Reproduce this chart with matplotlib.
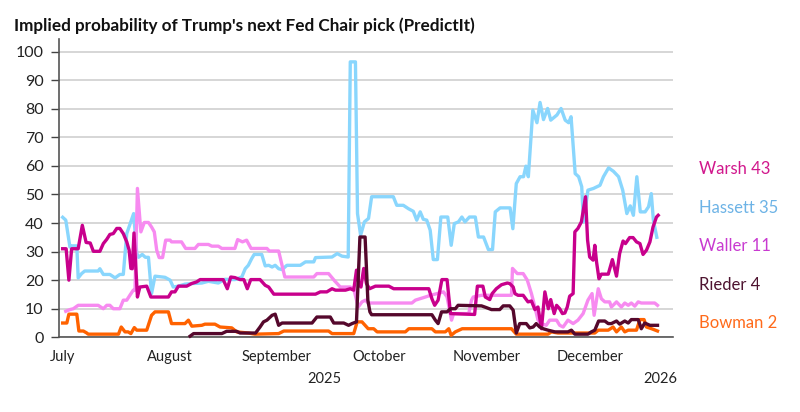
import matplotlib
matplotlib.use("Agg")
import matplotlib.pyplot as plt
import matplotlib.transforms as mtransforms

plt.rcParams['font.family'] = ['Lato', 'DejaVu Sans']

# x = days since 1 July 2025
months = ['July', 'August', 'September', 'October', 'November', 'December']
month_days = [0, 31, 62, 92, 123, 153]
years = ['2025', '2026']
year_days = [76, 173.5]

hassett_day = [0, 0.9, 2.1, 2.6, 4.1, 4.5, 5.5, 6.4, 10.3, 10.8, 11.8, 13.7, 15.2, 16.6, 17.6, 18.6,
               19.6, 20.6, 21.5, 22, 23.1, 24, 24.9, 25.8, 26.8, 29.7, 31.2, 32.1, 33.6, 35.5, 37.5,
               40.4, 42.3, 45.2, 47.1, 50, 52, 53, 53.9, 54.9, 55.6, 57.8, 58.8, 59.8, 60.8, 61.7,
               62.7, 63.7, 65.1, 69, 70.5, 72.9, 73.4, 78.2, 79.7, 81.1, 82.9, 83.5, 85, 85.6, 86.5,
               87.6, 88.8, 89.7, 96, 97, 98.9, 100.4, 101.8, 102.8, 103.8, 104.7, 105.7, 106.7,
               107.6, 108.8, 109.8, 111.8, 112.8, 113.7, 114.9, 115.9, 116.8, 118.1, 119.8, 120.7,
               122.2, 123.6, 124.8, 125.6, 127, 129.9, 130.7, 131.7, 132.8, 133.8, 134.5, 135.2,
               136.5, 137.7, 138.6, 139.6, 140.8, 141.7, 143.5, 144.7, 145.9, 146.9, 147.6, 148.8,
               149.8, 150.7, 151.2, 152.5, 154.1, 155.1, 156, 157, 158.5, 159.9, 161.4, 162.6,
               163.8, 164.8, 165.7, 166.7, 167.7, 169.1, 170.1, 170.9, 171.5, 172.5]
hassett = [42, 41, 31.6, 32, 32, 20.8, 22.3, 23.2, 23.2, 24, 22, 22, 20.8, 22, 22, 36.3,
           39.8, 43.3, 29.5, 28, 29, 28, 28, 15.3, 21.4, 21, 20, 17.6, 17.9, 18.6, 18.8,
           19, 19.6, 19, 20.3, 20.2, 21.1, 24, 25.2, 27.6, 29, 29, 25, 25.2, 24.6, 25.2,
           24, 23.7, 25.2, 25.2, 26.4, 26.4, 27.9, 28.1, 29.3, 28.4, 28.1, 96.4, 96.4, 43.3, 35.7,
           40.4, 41.6, 49.2, 49.2, 46.2, 46.2, 45, 44.1, 41, 43.9, 41.3, 41, 37.5,
           27.2, 27.2, 42.1, 42.1, 32.2, 39.8, 40.4, 42.1, 40.4, 42.1, 42.1, 35.1,
           35.1, 30.7, 30.7, 43.9, 45.3, 45.3, 38, 53.8, 56.2, 56.2, 59.9, 56.2,
           79.5, 75.1, 82.2, 76.2, 80.1, 76, 77.8, 80.1, 76, 75.1, 77.2, 57.3,
           56.2, 52.7, 40.4, 51.5, 52.1, 52.7, 53.2, 56.2, 59.3, 58.1, 56.2, 51.5,
           43.3, 46, 42.7, 56.2, 43.9, 43.9, 45.7, 50.3, 41, 35]

warsh_day = [0, 1, 1.8, 2.6, 4.5, 5.7, 6.8, 8, 8.9, 10.8, 11.8, 12.8, 13.7, 14.7, 15.7, 16.6, 17.6,
             18.6, 19.3, 19.8, 20.2, 20.7, 21.7, 22.4, 24.4, 25.6, 30.7, 31.6, 32.6, 33.6, 36,
             37.4, 38.9, 39.9, 46.6, 47.8, 48.8, 50, 51.5, 52.6, 53.6, 54.6, 57.3, 58.8, 59.8,
             61.3, 73.4, 74.8, 76.7, 78.2, 79.2, 82.1, 83.5, 84.5, 85.3, 86, 86.6, 87.4, 88.2,
             89.1, 90.8, 94.7, 96.1, 106.3, 107.2, 108, 109, 110.1, 111.6, 112.6, 119.6, 120.4,
             122, 122.7, 124, 124.7, 125.9, 127.4, 129.1, 129.8, 130.8, 131.3, 132.2, 133.7,
             135.1, 136.1, 137.1, 138, 139, 140, 141, 141.7, 142.7, 143.4, 144.3, 145.1, 145.8,
             146.5, 147.2, 148.2, 148.7, 149.6, 150.6, 151.8, 152.4, 153, 154, 154.5, 155,
             155.7, 156.4, 158.4, 159.6, 160.8, 161.7, 162.7, 163.4, 164.6, 165.6, 166.6,
             167.6, 168.5, 169.5, 170.5, 171.4, 172.4, 172.9]
warsh = [31, 31, 20, 31, 31, 39.2, 33.2, 33, 30.1, 30.1, 32.8, 34.3, 36, 36.3, 38.1, 38.1, 36.3,
         33.4, 30.5, 24.1, 24, 36.5, 14.1, 17.6, 17.9, 14.1, 14.1, 15.9, 15.9, 17.9, 17.9,
         18.8, 19.4, 20.2, 20.2, 17, 21.1, 20.9, 20.2, 20.2, 17, 20.2, 20.2, 18.2, 17.6,
         15.1, 15.1, 15.9, 15.9, 17, 16.5, 16.5, 17, 16.5, 23.5, 18.8, 17.6, 24.1, 18.8,
         17, 17.9, 17.9, 17, 17, 13.5, 11.2, 13, 20.2, 20.2, 8.3, 8, 17.9,
         17.9, 14.1, 13.2, 15.3, 17, 18.4, 19, 18.8, 17.6, 15.3, 14.7, 14.7,
         12.4, 12.7, 9.7, 10.6, 3, 15.9, 10, 13.2, 8.3, 11.2, 10, 8.3, 8.5,
         10.6, 14.4, 15.3, 36.9, 38.1, 40.4, 49.2, 34, 28.1, 27, 32.2, 26.4,
         20.5, 22.1, 22.1, 27.2, 21.4, 29.3, 33.7, 32.8, 34.9, 34.9, 33.4,
         32.8, 29, 30.5, 33.4, 38.6, 42.1, 42.7]

waller_day = [0.9, 2.1, 3.1, 4.5, 10.3, 11.8, 12.8, 13.7, 14.7, 16.6, 17.6, 18.6, 19.5, 20.5, 21,
              21.7, 22.7, 23.7, 24.9, 25.8, 26.6, 27.3, 28, 29, 29.9, 31.2, 31.6, 34.5, 35.7,
              38.4, 39.4, 42.3, 43.3, 45.2, 46.2, 50, 50.8, 52.2, 53.4, 54.7, 59.3, 60, 62.7,
              64.5, 72.9, 73.8, 77.2, 79, 80.6, 83.5, 84.5, 85.8, 86.9, 87.9, 88.7, 101.4, 102.4,
              105.3, 106.8, 110.6, 111.6, 112.9, 113.5, 117.9, 118.7, 119.2, 121.6, 130.3, 130.6,
              132, 133.7, 134.9, 136.1, 137.1, 138, 139, 140.4, 141.4, 143.4, 144.3, 145.3,
              146.7, 148.2, 149.6, 151.1, 152.5, 153.7, 154.3, 155.5, 156.4, 157.4, 158.8,
              159.3, 160.8, 162.2, 163.2, 164.2, 165.1, 166.1, 167.1, 168, 171.9, 172.7]
waller = [9.1, 9.7, 10, 11.2, 11.2, 10, 11.2, 11.2, 10, 10, 13, 13, 14.7, 16.5, 16.5,
          52.1, 36.9, 40.2, 40.2, 38.6, 36.9, 30.5, 27.9, 27.9, 34, 34, 33.4, 33.4, 31.1,
          31.1, 32.5, 32.5, 31.9, 31.9, 31.1, 31.1, 34.2, 33.4, 34, 31.1, 31.1, 30.2, 30.2,
          21.1, 21.1, 22.3, 22.3, 19.7, 17.6, 17.6, 17, 10.6, 12.4, 13, 12, 12, 13,
          14.1, 14.7, 15.9, 14.1, 6, 8.3, 8.3, 13, 14.1, 14.7, 14.7, 24.1,
          22.3, 22.3, 20, 15.3, 10.6, 6, 4.8, 4.2, 6, 6, 4.2, 3.6,
          6, 4.8, 6, 8.3, 13, 15.3, 7.7, 17, 13.5, 12.4, 12.4,
          10.6, 12.4, 10.6, 12, 11.2, 12, 10.9, 12.4, 12, 12, 11.2]

rieder_day = [37, 38, 46.2, 47.6, 50.5, 51.5, 56, 57.3, 58.3, 59.3, 60.8, 61.7, 62.7, 63.7, 72.4,
              73.8, 77.7, 78.7, 81.6, 83, 84, 85.3, 86.3, 87.8, 88.6, 89.2, 89.7, 107.2, 108.2,
              109, 110, 111.6, 112.6, 114, 114.8, 121.6, 123, 124.5, 126.9, 127.9, 129.8, 130.8,
              131.7, 132.7, 134.6, 135.6, 136.6, 137.5, 138.5, 139.5, 140.9, 142.9, 146.7, 147.7,
              148.7, 152.5, 153.5, 154.5, 155.6, 157.4, 158.4, 159.3, 160.8, 161.7, 163.2, 164.2,
              165.1, 167.1, 168, 169, 170.5, 172.7]
rieder = [0.4, 1.3, 1.3, 2.1, 2.1, 1.5, 1.5, 3.6, 5.4, 6, 7.7, 8.1, 4.2, 5, 5,
          7.1, 7.1, 5, 5, 4.2, 4.8, 5.4, 35.1, 35.1, 13, 8.9, 7.9, 7.9, 6,
          4.8, 8.9, 8.9, 10, 10, 11.2, 11, 10.4, 9.7, 9.7, 11, 11, 9.5,
          1.5, 4.8, 4.8, 3.3, 3.6, 4.8, 3.6, 3, 2.5, 1.9, 1.9, 2.5,
          1.1, 1.1, 1.9, 2.5, 5.7, 5.7, 4.8, 4.8, 5.7, 4.6, 5.7, 5,
          6.2, 6.2, 3, 5, 4.2, 4.2]

bowman_day = [0, 1.2, 1.8, 4.1, 4.7, 6, 7, 7.4, 16.2, 17, 18.1, 19, 19.8, 20.8, 21.5, 24.4, 25.8,
              26.8, 30.7, 31.6, 35.5, 36.5, 37.5, 40.4, 41.3, 44.2, 45.7, 49.1, 50.5, 53.9, 55.8,
              62.7, 64.2, 77.2, 78.2, 84.5, 85.5, 86.9, 88.7, 90.3, 91.3, 99.5, 100.5, 107.2,
              108.2, 111.1, 112.1, 112.8, 114, 116, 130.3, 131.7, 140.9, 141.9, 143.8, 154.5,
              155.5, 158.4, 159.8, 160.8, 162.2, 163.2, 164.2, 166.6, 167.6, 168.8, 169.5, 171,
              172.7]
bowman = [5, 5, 8.1, 8.1, 2.2, 2.2, 1.5, 1.1, 1.1, 3.6, 1.9, 1.9, 1.3, 3.4, 2.5, 2.5, 7.7,
          8.9, 8.9, 4.8, 4.8, 6, 3.9, 4.2, 4.6, 4.6, 3.6, 3.3, 1.9, 1.5, 1.1,
          1.3, 2.2, 2.2, 1.3, 1.3, 5.4, 5.4, 3, 3, 1.9, 1.9, 3, 3,
          1.9, 1.9, 3, 0.7, 1.9, 3, 3, 1.1, 1.1, 1.9, 1.5, 1.5,
          2.5, 2.5, 3.6, 1.9, 3.6, 1.9, 2.5, 2.5, 6.2, 6.2, 3.6, 3,
          2.2]

labels = ['Warsh 43', 'Hassett 35', 'Waller 11', 'Rieder 4', 'Bowman 2']
label_colors = ['#D1178C', '#6DB3E6', '#C83AD0', '#4E1430', '#FF6A1A']

fig = plt.figure(figsize=(8, 4.12), dpi=100)
ax = fig.add_axes([0.07375, 0.1813, 0.7675, 0.7240])

lw = 2.4
ax.plot(hassett_day, hassett, color='#89D6FD', lw=lw, zorder=3, clip_on=False)
ax.plot(waller_day, waller, color='#F78AF0', lw=lw, zorder=4, clip_on=False)
ax.plot(warsh_day, warsh, color='#C8008C', lw=lw, zorder=5, clip_on=False)
ax.plot(bowman_day, bowman, color='#FF6200', lw=lw, zorder=6, clip_on=False)
ax.plot(rieder_day, rieder, color='#55082C', lw=lw, zorder=7, clip_on=False)

ax.set_xlim(-1.07, 177.2)
ax.set_ylim(0, 104.4)
ax.set_yticks(range(0, 101, 10))
ax.yaxis.grid(True, color='#CBCBCB', lw=1.1)
ax.set_axisbelow(True)

ax.set_xticks(month_days)
ax.set_xticklabels(months)
ax.tick_params(axis='x', length=0, pad=9, labelsize=10.5, labelcolor='#222222')
ax.tick_params(axis='y', length=6, width=1, color='#444444', pad=5, labelsize=11.5,
               labelcolor='#222222')

for s in ['top', 'right']:
    ax.spines[s].set_visible(False)
for s in ['left', 'bottom']:
    ax.spines[s].set_color('#555555')
    ax.spines[s].set_linewidth(1.2)

trans = mtransforms.blended_transform_factory(ax.transData, fig.transFigure)
for d, y in zip(year_days, years):
    ax.text(d, 1 - 379 / 412, y, transform=trans, ha='center', va='center',
            fontsize=10.5, color='#222222')

for i, (lab, c) in enumerate(zip(labels, label_colors)):
    fig.text(699 / 800, 1 - (169.3 + 38.4 * i) / 412, lab, color=c, fontsize=12,
             ha='left', va='center')

fig.text(14 / 800, 1 - 31 / 412, "Implied probability of Trump's next Fed Chair pick (PredictIt)",
         fontsize=12.3, fontweight='bold', color='#111111', ha='left', va='baseline')

fig.savefig('out.png', dpi=100)
